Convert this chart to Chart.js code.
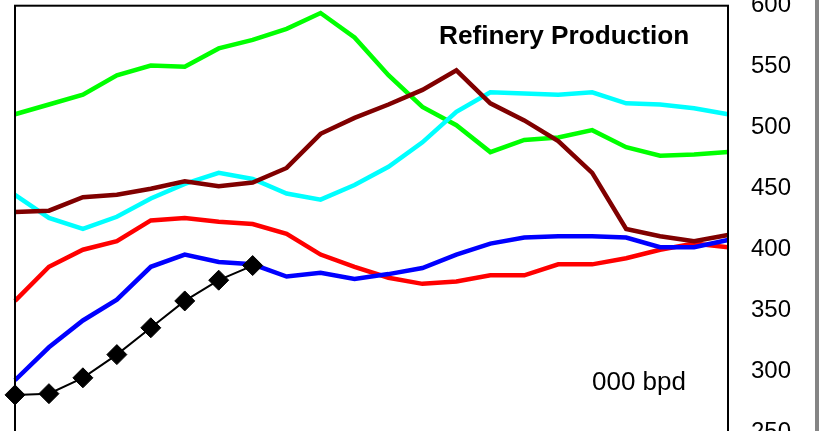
<!DOCTYPE html>
<html>
<head>
<meta charset="utf-8">
<script src="https://cdn.jsdelivr.net/npm/chart.js@4.4.1/dist/chart.umd.min.js"></script>
<style>
  html, body { margin: 0; padding: 0; background: #fff; overflow: hidden; }
  #wrap { position: relative; width: 819px; height: 431px; overflow: hidden; }
  #box { position: absolute; left: 0; top: 0; width: 815px; height: 460px; }
  #edge { position: absolute; left: 815px; top: 0; width: 4px; height: 431px; background: #858585; }
  .txt { position: absolute; font-family: "Liberation Sans", Arial, sans-serif; font-size: 26px; line-height: 26px; color: #000; white-space: nowrap; }
  #title { left: 439px; top: 22px; font-weight: bold; font-size: 26.2px; }
  #unit { left: 592px; top: 368px; }
</style>
</head>
<body>
<div id="wrap">
  <div id="box"><canvas id="myChart"></canvas></div>
  <div id="edge"></div>
  <div class="txt" id="title">Refinery Production</div>
  <div class="txt" id="unit">000 bpd</div>
</div>
<script>
// periods along the x axis (not shown in the crop)
const labels = ['1','2','3','4','5','6','7','8','9','10','11','12','13','14','15','16','17','18','19','20','21','22'];
const yTicks = [250, 300, 350, 400, 450, 500, 550, 600];

const verde  = [511, 519, 527, 543, 551, 550, 565, 572, 581, 594, 574, 543, 517, 502, 480, 490, 492, 498, 484, 477, 478, 480];
const cian   = [445, 426, 417, 427, 442, 454, 463, 458, 446, 441, 453, 468, 488, 513, 529, 528, 527, 529, 520, 519, 516, 511];
const granate= [431, 432, 443, 445, 450, 456, 452, 455, 467, 495, 508, 519, 531, 547, 520, 506, 489, 463, 417, 411, 407, 412];
const rojo   = [358, 386, 400, 407, 424, 426, 423, 421, 413, 396, 386, 377, 372, 374, 379, 379, 388, 388, 393, 400, 405, 402];
const azul   = [293, 320, 342, 359, 386, 396, 390, 388, 378, 381, 376, 380, 385, 396, 405, 410, 411, 411, 410, 402, 402, 408];
const negro  = [281, 282, 295, 314, 336, 358, 375, 387];

window.addEventListener("load", function () {
  const ctx = document.getElementById('myChart');

  // marco del area de dibujo
  const marco = {
    id: 'marco',
    afterDraw: (chart) => {
      const { ctx, chartArea: { left, top, right, bottom } } = chart;
      ctx.save();
      ctx.strokeStyle = '#000';
      ctx.lineWidth = 2;
      ctx.strokeRect(left, top, right - left, bottom - top);
      ctx.restore();
    }
  };

  const linea = (data, color, ancho) => ({
    data: data,
    borderColor: color,
    backgroundColor: color,
    borderWidth: ancho,
    pointRadius: 0,
    tension: 0,
    fill: false
  });

  new Chart(ctx, {
    type: 'line',
    data: {
      labels: labels,
      datasets: [
        {
          data: negro,
          borderColor: '#000',
          backgroundColor: '#000',
          borderWidth: 2,
          pointStyle: 'rectRot',
          pointRadius: 10,
          pointBorderWidth: 1,
          tension: 0,
          fill: false
        },
        linea(azul, '#0000ff', 4.5),
        linea(granate, '#800000', 4.5),
        linea(rojo, '#ff0000', 4.5),
        linea(cian, '#00ffff', 4.5),
        linea(verde, '#00ff00', 4.5)
      ]
    },
    options: {
      responsive: true,
      maintainAspectRatio: false,
      animation: false,
      layout: { autoPadding: false, padding: { left: 15, top: 5.7, right: 0, bottom: 27.3 } },
      plugins: { legend: { display: false }, tooltip: { enabled: false }, title: { display: false } },
      scales: {
        x: { display: false, offset: false },
        y: {
          position: 'right',
          min: 250,
          max: 600,
          afterBuildTicks: (scale) => { scale.ticks = yTicks.map(v => ({ value: v })); },
          afterFit: (scale) => { scale.width = 87; scale.paddingTop = 0; scale.paddingBottom = 0; },
          grid: { drawOnChartArea: false, drawTicks: false },
          border: { display: false },
          ticks: {
            padding: 23,
            color: '#000',
            font: { family: '"Liberation Sans", Arial, sans-serif', size: 24 }
          }
        }
      }
    },
    plugins: [marco]
  });
});
</script>
</body>
</html>
